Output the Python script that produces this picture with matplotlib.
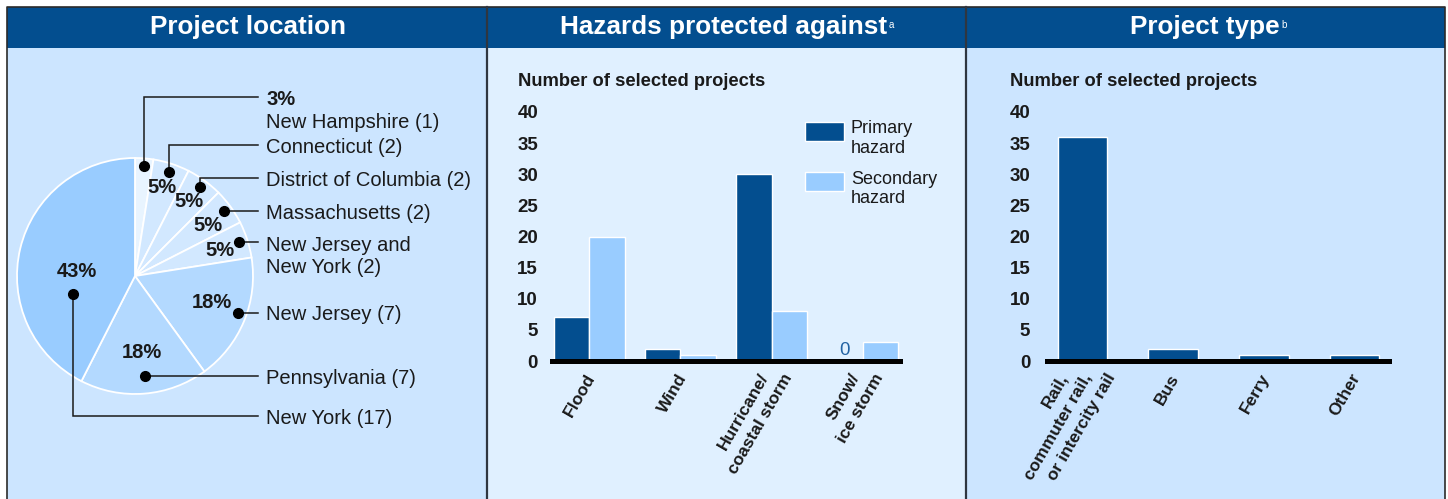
import numpy as np
import matplotlib
matplotlib.use("Agg")
import matplotlib.pyplot as plt
from matplotlib.patches import Rectangle

plt.rcParams['font.family'] = ['Liberation Sans', 'DejaVu Sans']

W, H = 1448, 499

# --- data ---
states = ["New Hampshire", "Connecticut", "District of Columbia", "Massachusetts",
          "New Jersey and\nNew York", "New Jersey", "Pennsylvania", "New York"]
state_counts = [1, 2, 2, 2, 2, 7, 7, 17]
state_pcts = ["3%", "5%", "5%", "5%", "5%", "18%", "18%", "43%"]

hazards = ["Flood", "Wind", "Hurricane/\ncoastal storm", "Snow/\nice storm"]
primary = [7, 2, 30, 0]
secondary = [20, 1, 8, 3]

types = ["Rail,\ncommuter rail,\nor intercity rail", "Bus", "Ferry", "Other"]
type_counts = [36, 2, 1, 1]

y_ticks = [0, 5, 10, 15, 20, 25, 30, 35, 40]

# --- colours ---
DARK = '#034E8F'
SEC = '#99CCFF'
BG_L = '#CCE5FF'
BG_M = '#E0F0FF'
pie_colors = ['#E8F4FF', '#D2E8FF', '#D2E8FF', '#D2E8FF', '#D2E8FF',
              '#B3D9FF', '#B3D9FF', '#99CCFF']
INK = '#1a1a1a'
PT = 0.72  # points per pixel at 100 dpi


def px_rect(l, t, r, b):
    return [l / W, 1 - b / H, (r - l) / W, (b - t) / H]


fig = plt.figure(figsize=(W / 100, H / 100), dpi=100)

# background, headers and frame in pixel coords
bg = fig.add_axes([0, 0, 1, 1])
bg.set_xlim(0, W)
bg.set_ylim(H, 0)
bg.axis('off')
bg.add_patch(Rectangle((7, 48), 480, 460, facecolor=BG_L, edgecolor='none'))
bg.add_patch(Rectangle((487, 48), 479, 460, facecolor=BG_M, edgecolor='none'))
bg.add_patch(Rectangle((966, 48), 479, 460, facecolor=BG_L, edgecolor='none'))
bg.add_patch(Rectangle((7, 7), 1438, 41, facecolor=DARK, edgecolor='none'))
bg.plot([7, 7, 1445, 1445], [520, 6.5, 6.5, 520], color='#2b2b2b', lw=1.2)
for xd in (487, 966):
    bg.plot([xd, xd], [7, 520], color='#2f3640', lw=1.6)

hdr = dict(ha='center', va='center', color='white', fontsize=18.8, weight='bold')
bg.text(247.5, 27, "Project location", **hdr)
t2 = bg.text(724, 27, "Hazards protected against", **hdr)
bg.annotate("a", xy=(1, 0.6), xycoords=t2, xytext=(1, 0), textcoords='offset points',
            ha='left', va='center', color='white', fontsize=7)
t3 = bg.text(1205, 27, "Project type", **hdr)
bg.annotate("b", xy=(1, 0.6), xycoords=t3, xytext=(1, 0), textcoords='offset points',
            ha='left', va='center', color='white', fontsize=7)

# --- Project location pie ---
axp = fig.add_axes([0, 0, 488 / W, 1])
cx, cy, R = 135, H - 276, 118
wedges, _ = axp.pie(state_counts, colors=pie_colors, startangle=90, counterclock=False,
                    center=(cx, cy), radius=R,
                    wedgeprops=dict(edgecolor='white', linewidth=1.3))
axp.set_xlim(0, 488)
axp.set_ylim(0, H)
axp.set_aspect('auto')
axp.axis('off')

dot_r = [0.935, 0.93, 0.93, 0.93, 0.93, 0.93, 0.85, 0.55]
dot_dth = [0, 0, 0, 0, 0, 2.7, 1.2, 30]
leader_py = [97, 145, 178, 211, 242, 313, 376, 416]
pct_r = [None, 0.78, 0.78, 0.75, 0.75, 0.69, 0.65, 0.49]
pct_dth = [0, 1, 0, -1, -1, 3.8, 0.7, 9.5]
x_end, x_text = 258, 266
line_h = 24  # px between text lines

for i, w in enumerate(wedges):
    mid = (w.theta1 + w.theta2) / 2
    a = np.radians(mid + dot_dth[i])
    dx = cx + dot_r[i] * R * np.cos(a)
    dy = cy + dot_r[i] * R * np.sin(a)
    ly = H - leader_py[i]
    axp.plot([dx, dx, x_end], [dy, ly, ly], color=INK, lw=1.1, solid_joinstyle='miter')
    axp.plot(dx, dy, 'o', color='black', ms=7)
    label = f"{states[i]} ({state_counts[i]})"
    if pct_r[i] is None:
        axp.text(x_text, ly, state_pcts[i], ha='left', va='center_baseline',
                 fontsize=14.5, weight='bold', color=INK)
        axp.text(x_text, ly - 23, label, ha='left', va='center_baseline',
                 fontsize=14.5, color=INK)
    else:
        n = label.count("\n")
        if n:
            axp.text(x_text, ly - n * line_h / 2 - 2.5, label, ha='left', va='center',
                     fontsize=14.5, color=INK, linespacing=1.26)
        else:
            axp.text(x_text, ly, label, ha='left', va='center_baseline',
                     fontsize=14.5, color=INK)
        b = np.radians(mid + pct_dth[i])
        axp.text(cx + pct_r[i] * R * np.cos(b), cy + pct_r[i] * R * np.sin(b),
                 state_pcts[i], ha='center', va='center', fontsize=14.5,
                 weight='bold', color=INK)


def style_bar_axes(ax, pad):
    ax.set_facecolor('none')
    for s in ax.spines.values():
        s.set_visible(False)
    ax.set_ylim(0, 40)
    ax.set_yticks(y_ticks)
    ax.tick_params(axis='both', length=0)
    ax.tick_params(axis='y', pad=pad)
    for lab in ax.get_yticklabels():
        lab.set_fontweight('bold')
        lab.set_fontsize(13.5)
        lab.set_color(INK)
    ax.axhline(0, color='black', lw=3.6, clip_on=False, zorder=5)


def category_labels(ax, xs, labels):
    # rotated category names; each line ends just under the axis, lines stepped right
    ax.set_xticks(xs)
    ax.set_xticklabels([])
    for x, lab in zip(xs, labels):
        lines = lab.split("\n")
        n = len(lines)
        c = -4 if n == 1 else -1
        for k, line in enumerate(lines):
            off = (k - (n - 1) / 2) * 24 + c
            ax.annotate(line, xy=(x, 0), xytext=(off * PT, -10 * PT),
                        textcoords='offset points', rotation=60, rotation_mode='anchor',
                        ha='right', va='top', fontsize=12.5, weight='bold', color=INK,
                        annotation_clip=False)


# --- Hazards protected against ---
axm = fig.add_axes(px_rect(552, 112, 900, 361))
xm = np.arange(len(hazards))
bw = 0.39
axm.bar(xm - bw / 2, primary, bw, color=DARK, edgecolor='white', linewidth=1)
axm.bar(xm + bw / 2, secondary, bw, color=SEC, edgecolor='white', linewidth=1)
axm.set_xlim(-0.41, 3.41)
style_bar_axes(axm, 10)
category_labels(axm, xm, hazards)
for i, v in enumerate(primary):
    if v == 0:
        axm.annotate("0", xy=(xm[i] - bw / 2, 0), xytext=(0, 1.5), textcoords='offset points',
                     ha='center', va='bottom', fontsize=13.5, color='#2363A3')
axm.text(-0.41 - 34 / 91, 40 + 31 / 6.225, "Number of selected projects", ha='left',
         va='center', fontsize=13.2, weight='bold', color=INK)

# legend drawn by hand (two-line labels aligned on first line)
leg = [("Primary\nhazard", DARK, 0.960, 0.893), ("Secondary\nhazard", SEC, 0.759, 0.692)]
for txt, col, top, ymid in leg:
    axm.add_patch(Rectangle((0.727, top - 0.078), 0.112, 0.078, transform=axm.transAxes,
                            facecolor=col, edgecolor='white', lw=1, clip_on=False))
    axm.text(0.859, ymid, txt, transform=axm.transAxes, ha='left', va='center',
             fontsize=13, color=INK, linespacing=1.18)

# --- Project type ---
axr = fig.add_axes(px_rect(1047, 112, 1389, 361))
xr = np.arange(len(types))
axr.bar(xr, type_counts, 0.545, color=DARK, edgecolor='white', linewidth=1)
axr.set_xlim(-0.39, 3.38)
style_bar_axes(axr, 12)
category_labels(axr, xr, types)
axr.text(-0.39 - 37 / 90.7, 40 + 31 / 6.225, "Number of selected projects", ha='left',
         va='center', fontsize=13.2, weight='bold', color=INK)

fig.savefig("out.png", dpi=100)
